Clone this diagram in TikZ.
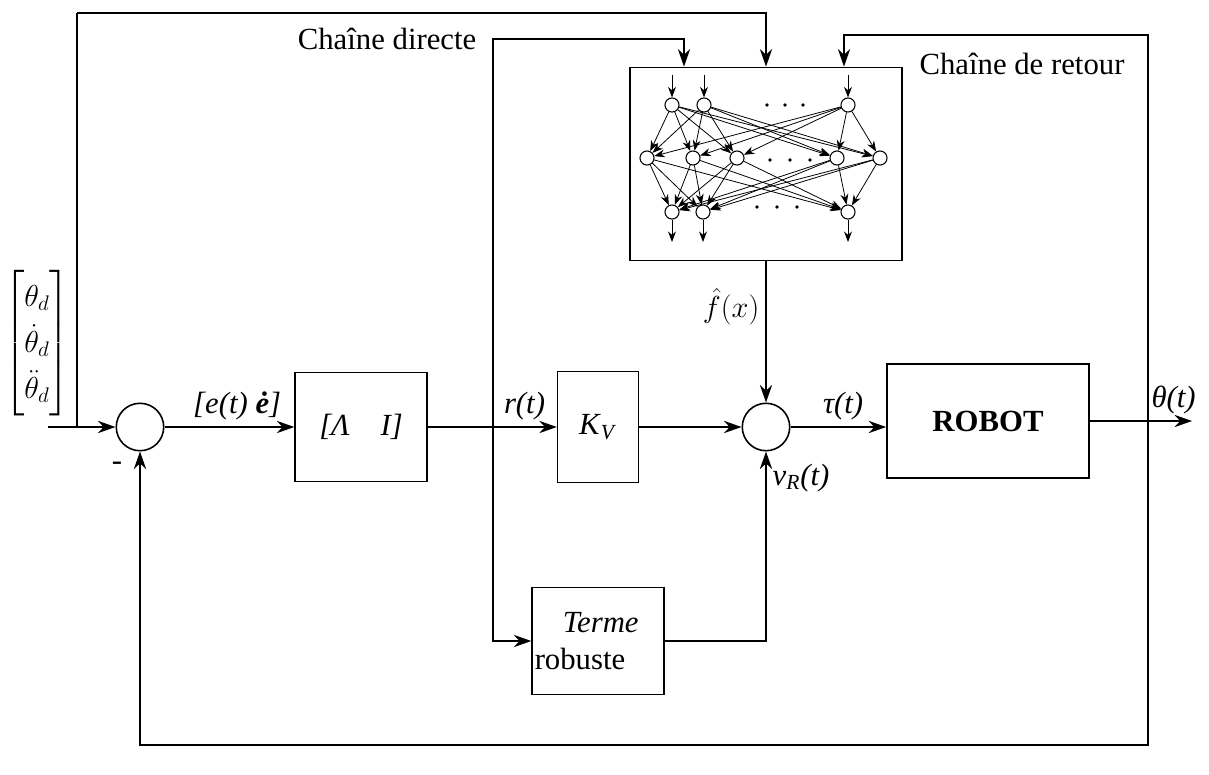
\documentclass[tikz,border=0pt]{standalone}
\usepackage{amsmath}
\usepackage{fontspec}
\setmainfont{Liberation Serif}
\usetikzlibrary{arrows.meta,positioning,calc}

\begin{document}
\begin{tikzpicture}[x=0.02cm,y=-0.02cm,>={Stealth[length=10pt,width=7pt]},font=\fontsize{17.5}{21}\selectfont]
\tikzset{blk/.style={draw,line width=0.9pt,align=center,inner sep=1pt},
sumn/.style={draw,circle,line width=0.9pt,minimum size=27pt,inner sep=0pt},
neur/.style={draw,circle,line width=0.6pt,minimum size=8pt,inner sep=0pt},
arr/.style={->,line width=1pt},
syn/.style={-{Stealth[length=6pt,width=4.5pt]},line width=0.45pt},
lbl/.style={font=\itshape\fontsize{17.5}{21}\selectfont}}
\useasboundingbox (0,0) rectangle (1209,774);
% blocs
\node (thd) at (37,343) {\renewcommand{\arraystretch}{1.25}$\begin{bmatrix}\theta_d\\ \dot\theta_d\\ \ddot\theta_d\end{bmatrix}$};
\node[sumn] (sum1) at (140,427) {};
\node (minus) at (117,466) {-};
\node[blk,minimum width=75pt,minimum height=62pt] (lam) at (361,427) {\textit{[Λ\quad I]}};
\node[blk,minimum width=46pt,minimum height=63pt] (kv) at (598,427) {\textit{K}\textsubscript{\textit{V}}};
\node[sumn] (sum2) at (766,427) {};
\node[blk,minimum width=115pt,minimum height=65pt,font=\bfseries\fontsize{17.5}{21}\selectfont] (robot) at (988,421) {ROBOT};
\node[blk,minimum width=75pt,minimum height=61pt,text width=72pt,align=left,inner xsep=1pt] (terme) at (598,641) {\hspace*{16pt}\textit{Terme}\\robuste};
\node[blk,minimum width=155pt,minimum height=110pt] (nn) at (766,164) {};
% reseau de neurones
\foreach \n/\x in {1/672,2/704,3/848} \node[neur] (a\n) at (\x,105) {};
\foreach \n/\x in {1/647,2/693,3/737,4/837,5/880} \node[neur] (b\n) at (\x,158) {};
\foreach \n/\x in {1/672,2/703,3/848} \node[neur] (c\n) at (\x,212) {};
\foreach \i in {1,2,3} \foreach \j in {1,...,5} \draw[syn] (a\i) -- (b\j);
\foreach \j in {1,...,5} \foreach \k in {1,2,3} \draw[syn] (b\j) -- (c\k);
\foreach \i in {1,2,3} {
  \coordinate (ain\i) at ($(a\i)+(0,-30)$);
  \coordinate (cout\i) at ($(c\i)+(0,30)$);
  \draw[syn] (ain\i) -- (a\i);
  \draw[syn] (c\i) -- (cout\i);
}
\foreach \x in {767,785,803} \fill (\x,105) circle (1.1pt);
\foreach \x in {770,790,810} \fill (\x,160) circle (1.1pt);
\foreach \x in {757,777,797} \fill (\x,207) circle (1.1pt);
% points de branchement
\coordinate (in) at (48,427);
\coordinate (jin) at (77,427);
\coordinate (ttop) at (77,13);
\coordinate (jr) at (493,427);
\coordinate (dirc) at (493,39);
\coordinate (jout) at (1148,421);
\coordinate (out) at (1192,421);
\coordinate (retc) at (1148,35);
\coordinate (botc) at (1148,745);
\node[left=6pt of dirc] (dirlbl) {Chaîne directe};
\node (retlbl) at (1022,64) {Chaîne de retour};
% liaisons
\draw[arr] (in) -- (sum1);
\draw[line width=1pt] (jin) -- (ttop);
\draw[arr] (ttop) -| (nn.north);
\draw[arr] (sum1) -- node[pos=.56,above,lbl]{[e(t) \textbf{ė}]} (lam);
\draw[arr] (lam) -- node[pos=.75,above,lbl]{r(t)} (kv);
\draw[arr] (kv) -- (sum2);
\draw[arr] (jr) -- (dirc) -| ($(nn.north)+(-82,0)$);
\draw[arr] (jr) |- (terme);
\draw[arr] (nn) -- node[pos=.32,left]{$\hat f(x)$} (sum2);
\draw[arr] (terme) -| node[pos=.93,right,lbl]{v\textsubscript{R}(t)} (sum2);
\draw[arr] (sum2) -- node[pos=.55,above,lbl]{τ(t)} (robot.west |- sum2);
\draw[arr] (robot) -- node[pos=.82,above,lbl]{θ(t)} (out);
\draw[arr] (jout) -- (retc) -| ($(nn.north)+(78,0)$);
\draw[arr] (jout) -- (botc) -| (sum1);
\end{tikzpicture}
\end{document}
